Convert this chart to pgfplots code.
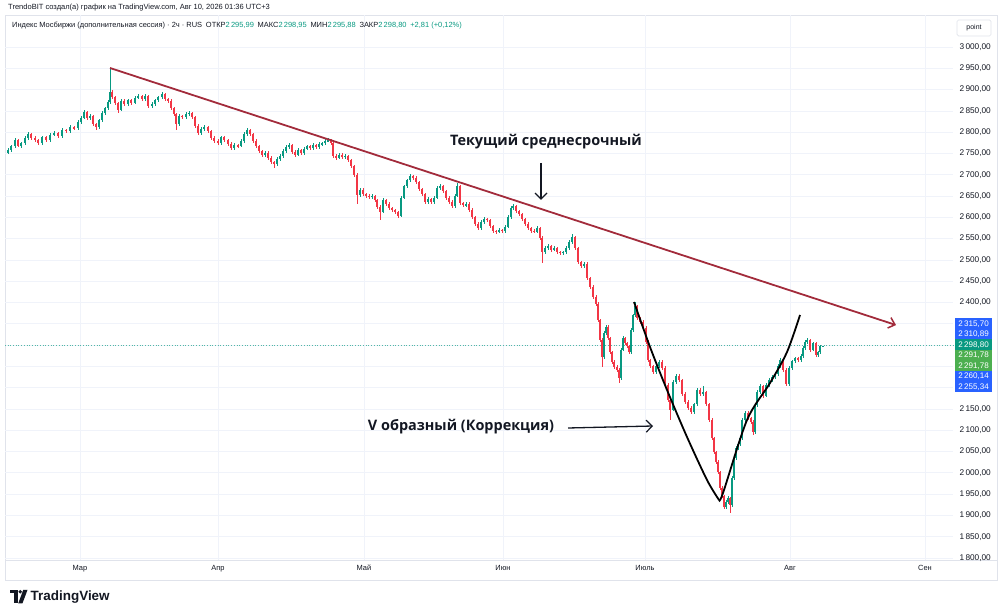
\documentclass[border=0pt]{standalone}
\usepackage{fontspec}
\setmainfont{Liberation Sans}
\newfontfamily\annfont{Open Sans}
\usepackage{pgfplots}
\pgfplotsset{compat=1.18}
\usepackage{pgfplotstable}
\usetikzlibrary{arrows.meta}
\definecolor{upc}{HTML}{089981}
\definecolor{dnc}{HTML}{F23645}
\definecolor{trendc}{HTML}{A22B3B}
\definecolor{gridc}{HTML}{F0F3FA}
\definecolor{tvtext}{HTML}{131722}
\definecolor{tvblue}{HTML}{2962FF}
\definecolor{tvgreen}{HTML}{4CAF50}
\definecolor{framec}{HTML}{E0E3EB}

\pgfplotstableread{
x o h l c
8 2752.0 2762 2748 2758.1
11 2758.1 2771 2754 2767.5
15 2767.5 2786 2763 2781.6
18 2781.6 2785 2764 2767.5
21 2767.5 2778 2763 2774.5
25 2774.5 2790 2771 2786.3
28 2786.3 2800 2782 2795.7
31 2795.7 2799 2782 2786.3
35 2786.3 2790 2777 2781.6
38 2781.6 2785 2770 2774.5
42 2774.5 2792 2771 2788.6
46 2788.6 2792 2777 2781.6
50 2781.6 2797 2778 2793.3
54 2793.3 2802 2790 2798.0
58 2798.0 2801 2787 2791.0
62 2791.0 2809 2787 2805.1
66 2805.1 2808 2798 2802.7
70 2802.7 2816 2799 2812.1
74 2812.1 2815 2805 2809.8
78 2809.8 2828 2806 2823.9
81 2823.9 2837 2820 2833.3
84 2833.3 2852 2830 2847.3
87 2847.3 2850 2829 2833.3
90 2833.3 2842 2829 2838.0
93 2838.0 2841 2815 2819.2
96 2819.2 2822 2806 2812.1
99 2812.1 2832 2808 2828.6
102 2828.6 2849 2825 2845.0
105 2845.0 2860 2841 2856.7
108 2856.7 2875 2853 2870.8
110 2870.8 2951 2867 2894.3
112 2894.3 2898 2878 2882.6
115 2882.6 2886 2864 2868.5
118 2868.5 2872 2845 2852.0
121 2852.0 2877 2849 2873.2
124 2873.2 2877 2862 2866.1
128 2866.1 2879 2862 2875.5
131 2875.5 2879 2864 2868.5
135 2868.5 2884 2865 2880.2
138 2880.2 2889 2877 2884.9
142 2884.9 2888 2874 2877.9
145 2877.9 2889 2874 2884.9
148 2884.9 2888 2857 2861.4
152 2861.4 2870 2857 2866.1
155 2866.1 2879 2862 2875.5
158 2875.5 2886 2872 2882.6
162 2882.6 2894 2879 2889.6
165 2889.6 2893 2874 2877.9
168 2877.9 2881 2869 2873.2
171 2873.2 2877 2852 2856.7
174 2856.7 2860 2838 2842.7
176 2842.7 2846 2805 2819.2
179 2819.2 2842 2815 2838.0
182 2838.0 2841 2831 2835.6
186 2835.6 2847 2832 2842.7
189 2842.7 2849 2839 2845.0
192 2845.0 2848 2831 2835.6
195 2835.6 2839 2810 2814.5
198 2814.5 2818 2793 2798.0
201 2798.0 2811 2794 2807.4
204 2807.4 2816 2803 2812.1
208 2812.1 2815 2798 2802.7
211 2802.7 2806 2782 2786.3
214 2786.3 2790 2775 2779.2
218 2779.2 2783 2770 2774.5
221 2774.5 2792 2771 2788.6
224 2788.6 2792 2777 2781.6
228 2781.6 2785 2768 2772.2
231 2772.2 2776 2758 2762.8
234 2762.8 2774 2759 2769.8
238 2769.8 2773 2763 2767.5
241 2767.5 2783 2764 2779.2
244 2779.2 2800 2775 2795.7
247 2795.7 2810 2792 2805.1
250 2805.1 2808 2791 2795.7
253 2795.7 2799 2775 2779.2
256 2779.2 2783 2763 2767.5
259 2767.5 2771 2751 2755.8
262 2755.8 2759 2742 2746.4
265 2746.4 2755 2742 2751.1
268 2751.1 2755 2735 2739.3
271 2739.3 2743 2725 2729.9
274 2729.9 2733 2716 2725.2
277 2725.2 2741 2721 2737.0
280 2737.0 2748 2733 2744.0
283 2744.0 2760 2740 2755.8
286 2755.8 2769 2752 2765.1
289 2765.1 2774 2761 2769.8
292 2769.8 2773 2749 2753.4
295 2753.4 2757 2742 2746.4
298 2746.4 2762 2743 2758.1
301 2758.1 2761 2747 2751.1
304 2751.1 2764 2747 2760.5
307 2760.5 2771 2757 2767.5
310 2767.5 2771 2759 2762.8
313 2762.8 2774 2759 2769.8
316 2769.8 2773 2761 2765.1
319 2765.1 2776 2761 2772.2
322 2772.2 2778 2768 2774.5
325 2774.5 2783 2771 2779.2
328 2779.2 2787 2776 2781.6
331 2781.6 2785 2770 2774.5
333 2774.5 2778 2740 2744.0
336 2744.0 2748 2735 2739.3
339 2739.3 2750 2736 2746.4
342 2746.4 2750 2738 2741.7
345 2741.7 2748 2738 2744.0
348 2744.0 2747 2731 2734.6
351 2734.6 2738 2716 2720.5
354 2720.5 2724 2695 2699.4
357 2699.4 2703 2631 2652.4
360 2652.4 2668 2648 2664.2
363 2664.2 2668 2651 2654.8
366 2654.8 2658 2646 2650.1
369 2650.1 2654 2644 2647.7
372 2647.7 2654 2644 2650.1
375 2650.1 2653 2637 2640.7
377 2640.7 2644 2620 2624.2
380 2624.2 2628 2594 2612.5
383 2612.5 2645 2609 2640.7
386 2640.7 2644 2627 2631.3
389 2631.3 2635 2618 2621.9
392 2621.9 2625 2613 2617.2
395 2617.2 2620 2608 2612.5
398 2612.5 2616 2599 2603.1
401 2603.1 2649 2600 2645.4
404 2645.4 2677 2642 2673.6
407 2673.6 2691 2670 2687.6
410 2687.6 2701 2684 2697.0
413 2697.0 2700 2688 2692.3
416 2692.3 2696 2679 2683.0
419 2683.0 2686 2662 2666.5
422 2666.5 2670 2651 2654.8
425 2654.8 2658 2632 2636.0
428 2636.0 2647 2632 2643.0
431 2643.0 2646 2632 2636.0
434 2636.0 2649 2632 2645.4
437 2645.4 2673 2642 2668.9
440 2668.9 2678 2665 2673.6
443 2673.6 2677 2658 2661.8
446 2661.8 2665 2641 2645.4
449 2645.4 2649 2632 2636.0
452 2636.0 2640 2622 2626.6
455 2626.6 2654 2623 2650.1
457 2650.1 2681 2647 2673.6
460 2673.6 2677 2630 2633.6
463 2633.6 2637 2625 2628.9
466 2628.9 2635 2625 2631.3
469 2631.3 2635 2613 2617.2
472 2617.2 2621 2597 2600.8
475 2600.8 2604 2580 2584.3
478 2584.3 2588 2570 2574.9
481 2574.9 2593 2571 2589.0
484 2589.0 2600 2585 2596.1
487 2596.1 2599 2589 2593.7
490 2593.7 2597 2575 2579.6
493 2579.6 2583 2564 2567.9
496 2567.9 2571 2561 2565.5
499 2565.5 2574 2562 2570.2
502 2570.2 2573 2564 2567.9
505 2567.9 2581 2564 2577.3
508 2577.3 2605 2574 2600.8
511 2600.8 2626 2597 2621.9
513 2621.9 2632 2618 2626.6
516 2626.6 2630 2611 2614.9
519 2614.9 2618 2604 2607.8
522 2607.8 2611 2592 2596.1
525 2596.1 2599 2580 2584.3
528 2584.3 2588 2571 2574.9
531 2574.9 2578 2564 2567.9
534 2567.9 2572 2563 2566.5
537 2566.5 2579 2563 2574.9
540 2574.9 2578 2547 2551.4
542 2551.4 2555 2493 2518.6
545 2518.6 2532 2515 2528.0
548 2528.0 2537 2524 2532.6
551 2532.6 2536 2519 2523.3
554 2523.3 2532 2520 2528.0
557 2528.0 2531 2515 2518.6
560 2518.6 2522 2512 2516.2
563 2516.2 2522 2512 2518.6
566 2518.6 2532 2515 2528.0
569 2528.0 2546 2524 2542.0
572 2542.0 2561 2538 2553.8
575 2553.8 2557 2524 2528.0
578 2528.0 2531 2491 2495.1
581 2495.1 2498 2481 2485.7
584 2485.7 2494 2482 2490.4
587 2490.4 2494 2453 2457.5
590 2457.5 2461 2432 2436.4
593 2436.4 2440 2408 2412.9
596 2412.9 2417 2392 2396.4
598 2396.4 2400 2354 2358.9
600 2358.9 2362 2307 2311.9
602 2311.9 2316 2248 2272.0
604 2272.0 2332 2268 2328.3
606 2328.3 2347 2324 2342.4
608 2342.4 2346 2312 2316.6
610 2316.6 2320 2279 2283.7
612 2283.7 2287 2256 2260.2
614 2260.2 2264 2244 2248.5
617 2248.5 2252 2237 2241.4
619 2241.4 2245 2211 2222.6
621 2222.6 2292 2219 2288.4
623 2288.4 2321 2285 2316.6
625 2316.6 2320 2300 2304.8
627 2304.8 2308 2293 2297.8
629 2297.8 2301 2279 2283.7
631 2283.7 2339 2280 2335.4
633 2335.4 2374 2331 2370.6
635 2370.6 2401 2367 2391.7
637 2391.7 2395 2359 2363.5
640 2363.5 2367 2350 2354.2
643 2354.2 2358 2336 2340.1
646 2340.1 2344 2303 2307.2
648 2307.2 2311 2261 2264.9
650 2264.9 2268 2247 2250.8
653 2250.8 2254 2233 2236.7
656 2236.7 2254 2233 2250.8
659 2250.8 2264 2247 2260.2
662 2260.2 2264 2242 2246.1
665 2246.1 2250 2202 2206.2
668 2206.2 2210 2167 2171.0
670 2171.0 2175 2124 2147.5
673 2147.5 2217 2144 2213.3
676 2213.3 2231 2209 2227.3
679 2227.3 2231 2214 2218.0
682 2218.0 2221 2181 2185.1
685 2185.1 2189 2162 2166.3
688 2166.3 2170 2148 2152.2
691 2152.2 2156 2139 2142.8
694 2142.8 2165 2139 2161.6
697 2161.6 2198 2158 2194.5
700 2194.5 2198 2181 2185.1
703 2185.1 2205 2181 2189.8
706 2189.8 2193 2158 2161.6
709 2161.6 2165 2120 2124.0
712 2124.0 2128 2078 2081.7
714 2081.7 2085 2045 2048.9
716 2048.9 2052 2021 2025.4
718 2025.4 2029 1998 2001.9
720 2001.9 2005 1960 1964.3
722 1964.3 1968 1941 1945.5
724 1945.5 1949 1915 1919.7
726 1919.7 1935 1916 1931.4
728 1931.4 1945 1927 1940.8
730 1940.8 1944 1905 1924.4
732 1924.4 1992 1920 1987.8
734 1987.8 2039 1984 2034.8
736 2034.8 2062 2031 2058.3
738 2058.3 2072 2054 2067.7
740 2067.7 2086 2064 2081.7
742 2081.7 2128 2078 2124.0
745 2124.0 2144 2120 2140.4
748 2140.4 2144 2125 2128.7
751 2128.7 2132 2115 2119.3
753 2119.3 2123 2088 2095.8
755 2095.8 2163 2092 2159.2
757 2159.2 2194 2155 2189.8
760 2189.8 2208 2186 2203.9
763 2203.9 2207 2176 2180.4
766 2180.4 2210 2177 2206.2
769 2206.2 2222 2202 2218.0
772 2218.0 2229 2214 2225.0
775 2225.0 2236 2221 2232.0
778 2232.0 2255 2228 2250.8
780 2250.8 2269 2247 2264.9
783 2264.9 2268 2237 2241.4
786 2241.4 2245 2204 2208.6
789 2208.6 2250 2205 2246.1
792 2246.1 2266 2242 2262.6
795 2262.6 2273 2259 2269.6
798 2269.6 2273 2261 2264.9
801 2264.9 2278 2261 2274.3
803 2274.3 2297 2270 2293.1
805 2293.1 2311 2289 2307.2
807 2307.2 2315.7 2303 2311.9
810 2311.9 2315 2284 2288.4
813 2288.4 2308 2285 2304.8
816 2304.8 2308 2273 2276.7
818 2276.7 2287 2273 2283.7
820 2283.7 2300 2280 2297.8
823 2295.99 2298.95 2295.88 2298.8
}\candles

\pgfplotsset{candle/.style={draw=none, mark=none, forget plot,
  error bars/.cd, y dir=both, y explicit, error mark=none}}

\begin{document}
\begin{tikzpicture}[x=1bp,y=1bp]
\useasboundingbox (0,0) rectangle (1000,616);
% pane frame
\draw[framec, line width=0.8bp] (5,36) rectangle (997,601);
\draw[framec, line width=0.6bp] (5,56) -- (997,56);

\begin{axis}[
  at={(5bp,56bp)}, anchor=south west, scale only axis,
  width=948bp, height=545bp,
  xmin=5, xmax=953, ymin=1795.2, ymax=3075.2,
  clip=false,
  axis line style={draw=none},
  major tick length=0pt,
  grid=major,
  major grid style={draw=gridc, line width=0.7bp},
  xtick={80,218,364,503,645,790,925},
  xticklabels={Мар,Апр,Май,Июн,Июль,Авг,Сен},
  xticklabel style={font=\fontsize{7.5}{9}\selectfont, text=tvtext, inner sep=0pt, yshift=-5bp},
  ytick={1800,1850,...,3000},
  yticklabels={{1\,800,00}, {1\,850,00}, {1\,900,00}, {1\,950,00}, {2\,000,00}, {2\,050,00}, {2\,100,00}, {2\,150,00}, {}, {}, {}, {}, {2\,400,00}, {2\,450,00}, {2\,500,00}, {2\,550,00}, {2\,600,00}, {2\,650,00}, {2\,700,00}, {2\,750,00}, {2\,800,00}, {2\,850,00}, {2\,900,00}, {2\,950,00}, {3\,000,00}},
  yticklabel pos=right,
  yticklabel style={font=\fontsize{8.3}{10}\selectfont, text=tvtext, anchor=east, inner sep=0pt, xshift=38bp},
]
% last price dotted line
\addplot[upc!70, dotted, line width=0.7bp, forget plot] coordinates {(5,2298.8) (953,2298.8)};

% wicks up
\addplot[candle, error bar style={draw=upc, line width=0.7bp, solid}]
  table[x=x, y expr={\thisrow{c}>=\thisrow{o} ? (\thisrow{h}+\thisrow{l})/2 : nan},
        y error expr={(\thisrow{h}-\thisrow{l})/2}] {\candles};
% wicks down
\addplot[candle, error bar style={draw=dnc, line width=0.7bp, solid}]
  table[x=x, y expr={\thisrow{c}<\thisrow{o} ? (\thisrow{h}+\thisrow{l})/2 : nan},
        y error expr={(\thisrow{h}-\thisrow{l})/2}] {\candles};
% bodies up
\addplot[candle, error bar style={draw=upc, line width=1.9bp, solid}]
  table[x=x, y expr={\thisrow{c}>=\thisrow{o} ? (\thisrow{o}+\thisrow{c})/2 : nan},
        y error expr={max(abs(\thisrow{c}-\thisrow{o})/2,0.8)}] {\candles};
% bodies down
\addplot[candle, error bar style={draw=dnc, line width=1.9bp, solid}]
  table[x=x, y expr={\thisrow{c}<\thisrow{o} ? (\thisrow{o}+\thisrow{c})/2 : nan},
        y error expr={max(abs(\thisrow{c}-\thisrow{o})/2,0.8)}] {\candles};

% trend line
\draw[trendc, line width=1.8bp, -{Straight Barb[length=6bp,width=11bp,line width=1.5bp]}]
  (axis cs:110,2950.7) -- (axis cs:896,2347);

% V lines
\addplot[black, line width=1.8bp, smooth, forget plot] coordinates {
  (634,2401.1) (650,2295.5) (667,2194.5) (687,2084.1) (707,1983.1) (719,1936.1)};
\addplot[black, line width=1.8bp, smooth, forget plot] coordinates {
  (719,1936.1) (723,1952.6) (747,2124) (770,2210.9) (787,2283.7) (800,2370.6)};

% annotations
\node[font=\annfont\bfseries\fontsize{14.5}{16}\selectfont, text=tvtext] at (axis cs:546,2777) {Текущий среднесрочный};
\draw[tvtext, line width=1.3bp, -{Straight Barb[length=6bp,width=12bp,line width=1.2bp]}]
  (axis cs:541,2728) -- (axis cs:541,2641);
\node[font=\annfont\bfseries\fontsize{14.5}{16}\selectfont, text=tvtext] at (axis cs:461,2107.6) {V образный (Коррекция)};
\draw[tvtext, line width=1.3bp, -{Straight Barb[length=6bp,width=12bp,line width=1.2bp]}]
  (axis cs:568,2105.2) -- (axis cs:653,2109.9);
\end{axis}

% header texts
\node[anchor=west, inner sep=0pt, font=\fontsize{7.55}{9}\selectfont, text=tvtext] at (8,608)
  {TrendoBIT создал(а) график на TradingView.com, Авг 10, 2026 01:36 UTC+3};
\node[anchor=west, inner sep=0pt, font=\fontsize{7.5}{9}\selectfont, text=tvtext] at (12,590)
  {Индекс Мосбиржи (дополнительная сессия) · 2ч · RUS\enspace ОТКР{\color{upc}2\,295,99}\enspace МАКС{\color{upc}2\,298,95}\enspace МИН{\color{upc}2\,295,88}\enspace ЗАКР{\color{upc}2\,298,80}\enspace{\color{upc}+2,81 (+0,12\%)}};

% point box
\draw[framec, line width=0.7bp, fill=white, rounded corners=1.5bp] (957,580) rectangle (991,596);
\node[font=\fontsize{7}{8}\selectfont, text=tvtext] at (974,588) {point};

% right price labels
\foreach \yc/\col/\txt in {292.5/tvblue/{2\,315,70}, 282/tvblue/{2\,310,89}, 271.5/upc/{2\,298,80}, 261/tvgreen/{2\,291,78}, 250.5/tvgreen/{2\,291,78}, 240/tvblue/{2\,260,14}, 229.5/tvblue/{2\,255,34}} {
  \fill[\col] (955,\yc-5.25) rectangle (992,\yc+5.25);
  \node[font=\fontsize{8.1}{9}\selectfont, text=white, inner sep=0pt, text height=5.5bp, text depth=0pt] at (973.5,\yc) {\txt};
}

% TradingView logo
\fill[tvtext] (10,26) rectangle (17.5,22.5);
\fill[tvtext] (13.8,22.6) rectangle (17.5,12.5);
\fill[tvtext] (20.3,24.2) circle (1.9);
\fill[tvtext] (23.2,26) -- (27.5,26) -- (22.4,12.5) -- (18.2,12.5) -- cycle;
\node[anchor=west, inner sep=0pt, font=\bfseries\fontsize{13.5}{15}\selectfont, text=tvtext] at (30.5,19) {TradingView};
\end{tikzpicture}
\end{document}
